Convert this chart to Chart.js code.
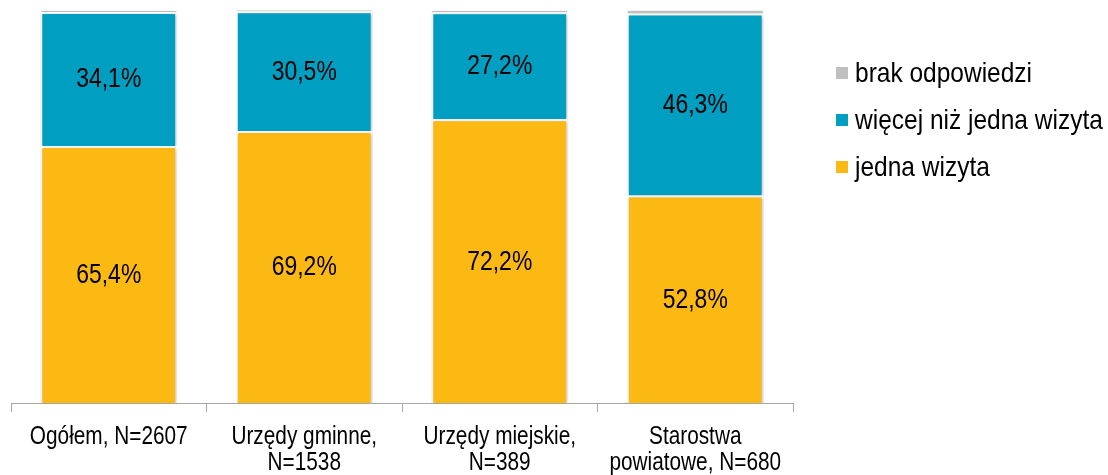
<!DOCTYPE html>
<html>
<head>
<meta charset="utf-8">
<script src="https://cdn.jsdelivr.net/npm/chart.js@4/dist/chart.umd.min.js"></script>
<style>
  html, body { margin: 0; padding: 0; background: #fff; }
  #wrap { width: 1108px; height: 475px; position: relative; }
</style>
</head>
<body>
<div id="wrap"><canvas id="chart"></canvas></div>
<script>
const CATEGORIES = [
  ["Ogółem, N=2607"],
  ["Urzędy gminne,", "N=1538"],
  ["Urzędy miejskie,", "N=389"],
  ["Starostwa", "powiatowe, N=680"]
];

const JEDNA_WIZYTA = [65.4, 69.2, 72.2, 52.8];
const WIECEJ_NIZ_JEDNA = [34.1, 30.5, 27.2, 46.3];
const BRAK_ODPOWIEDZI = [0.5, 0.3, 0.6, 0.9];

const SERIES_COLORS = ["#FDB913", "#009FC2", "#BFBFBF"];
const FONT = "'Liberation Sans', Arial, sans-serif";

// tekst "wąski" (jak Arial Narrow) - zwykły font ściśnięty w poziomie
function narrowText(ctx, text, x, y, size, sx, align) {
  ctx.save();
  ctx.translate(x, y);
  ctx.scale(sx, 1);
  ctx.font = size + "px " + FONT;
  ctx.textAlign = align || "center";
  ctx.textBaseline = "middle";
  ctx.fillStyle = "#000";
  ctx.fillText(text, 0, 0);
  ctx.restore();
}

// etykiety wartości na środku segmentów (bez "brak odpowiedzi")
const segmentLabels = {
  id: "segmentLabels",
  afterDatasetsDraw(chart) {
    const { ctx } = chart;
    chart.data.datasets.forEach((ds, i) => {
      if (i > 1) return;
      const meta = chart.getDatasetMeta(i);
      meta.data.forEach((bar, j) => {
        const p = bar.getProps(["x", "y", "base"], true);
        const txt = ds.data[j].toFixed(1).replace(".", ",") + "%";
        narrowText(ctx, txt, p.x, (p.y + p.base) / 2 + 1, 27, 0.85);
      });
    });
  }
};

// podpisy kategorii pod osią
const categoryLabels = {
  id: "categoryLabels",
  afterDraw(chart) {
    const { ctx, chartArea } = chart;
    const xs = chart.scales.x;
    chart.data.labels.forEach((lines, i) => {
      const x = xs.getPixelForValue(i);
      lines.forEach((line, k) => {
        narrowText(ctx, line, x, chartArea.bottom + 34 + k * 26, 26, 0.8);
      });
    });
  }
};

// legenda po prawej
const sideLegend = {
  id: "sideLegend",
  afterDraw(chart) {
    const { ctx, chartArea } = chart;
    const ds = chart.data.datasets.slice().reverse();
    const x0 = chartArea.right + 43;
    ds.forEach((d, i) => {
      const y = 73 + i * 47;
      ctx.fillStyle = d.backgroundColor;
      ctx.fillRect(x0, y - 6, 12, 12);
      narrowText(ctx, d.label, x0 + 19, y + 1, 28, 0.875, "left");
    });
  }
};

// delikatny cień pod słupkami
const barShadow = {
  id: "barShadow",
  beforeDatasetsDraw(chart) {
    const { ctx } = chart;
    ctx.save();
    ctx.shadowColor = "rgba(0,0,0,0.25)";
    ctx.shadowBlur = 4;
    ctx.shadowOffsetX = 1;
    ctx.shadowOffsetY = 1;
  },
  afterDatasetsDraw(chart) {
    chart.ctx.restore();
  }
};

new Chart(document.getElementById("chart"), {
  type: "bar",
  data: {
    labels: CATEGORIES,
    datasets: [
      {
        label: "jedna wizyta",
        data: JEDNA_WIZYTA,
        backgroundColor: SERIES_COLORS[0],
        borderColor: "#ffffff",
        borderWidth: 2
      },
      {
        label: "więcej niż jedna wizyta",
        data: WIECEJ_NIZ_JEDNA,
        backgroundColor: SERIES_COLORS[1],
        borderColor: "#ffffff",
        borderWidth: 2
      },
      {
        label: "brak odpowiedzi",
        data: BRAK_ODPOWIEDZI,
        backgroundColor: SERIES_COLORS[2],
        borderColor: "#ffffff",
        borderWidth: 1
      }
    ]
  },
  options: {
    responsive: true,
    maintainAspectRatio: false,
    animation: false,
    layout: { padding: { left: 11, top: 10, right: 315, bottom: 63 } },
    datasets: { bar: { categoryPercentage: 0.7, barPercentage: 1 } },
    plugins: {
      legend: { display: false },
      tooltip: { enabled: false }
    },
    scales: {
      x: {
        stacked: true,
        grid: {
          offset: true,
          drawOnChartArea: false,
          color: "#A6A6A6",
          tickLength: 9
        },
        border: { color: "#A6A6A6" },
        ticks: { display: false }
      },
      y: {
        stacked: true,
        min: 0,
        max: 100,
        display: false
      }
    }
  },
  plugins: [barShadow, segmentLabels, categoryLabels, sideLegend]
});
</script>
</body>
</html>
